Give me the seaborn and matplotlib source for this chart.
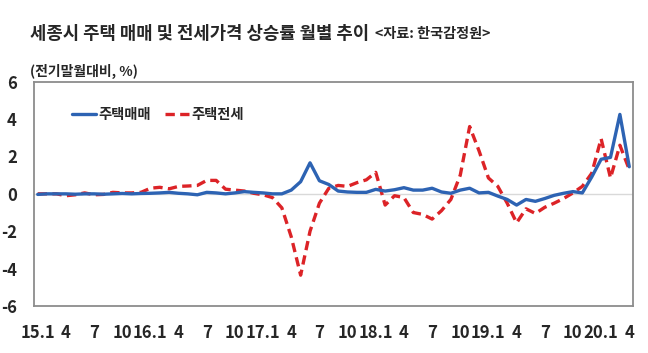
import matplotlib
matplotlib.use('Agg')
import matplotlib.pyplot as plt
import pandas as pd
import seaborn as sns

# month labels (15.1 ... 20.4), one tick every 3 months
tick_labels = ['15.1', '4', '7', '10', '16.1', '4', '7', '10', '17.1', '4', '7', '10',
               '18.1', '4', '7', '10', '19.1', '4', '7', '10', '20.1', '4']

# 주택매매 (sale price change, %)
sale = [-0.03, 0.0, 0.0, 0.0, -0.02, 0.0, 0.0, -0.02, 0.0, 0.02, 0.0, 0.02,
        0.03, 0.05, 0.08, 0.03, 0.0, -0.05, 0.08, 0.05, 0.0, 0.05, 0.12, 0.08,
        0.05, 0.0, 0.0, 0.2, 0.65, 1.66, 0.7, 0.5, 0.15, 0.1, 0.08, 0.08,
        0.24, 0.15, 0.22, 0.33, 0.2, 0.2, 0.3, 0.1, 0.03, 0.2, 0.3, 0.05,
        0.08, -0.12, -0.3, -0.6, -0.3, -0.4, -0.25, -0.08, 0.03, 0.12, 0.05, 0.9,
        1.85, 1.95, 4.25, 1.45]

# 주택전세 (jeonse price change, %)
jeonse = [0.0, 0.0, 0.0, -0.1, -0.05, 0.05, -0.05, -0.03, 0.08, 0.05, 0.05, 0.08,
          0.3, 0.35, 0.27, 0.4, 0.42, 0.45, 0.72, 0.72, 0.25, 0.2, 0.15, 0.03,
          -0.05, -0.2, -0.75, -2.3, -4.35, -2.0, -0.5, 0.3, 0.45, 0.4, 0.6, 0.75,
          1.15, -0.6, -0.1, -0.2, -1.0, -1.1, -1.35, -0.9, -0.3, 1.0, 3.6, 2.3,
          0.85, 0.4, -0.5, -1.55, -0.8, -1.05, -0.72, -0.5, -0.25, 0.05, 0.4, 1.1,
          2.95, 0.85, 2.6, 1.3]

df = pd.DataFrame({'month': range(len(sale)), 'sale': sale, 'jeonse': jeonse})

sns.set_style("white")
plt.rcParams['font.family'] = ['Noto Sans CJK KR', 'DejaVu Sans']

blue = '#2d63b3'
red = '#dc2327'

fig = plt.figure(figsize=(6.48, 3.53), dpi=100)
ax = fig.add_axes([0.0517, 0.1331, 0.9252, 0.6355])

ax.axhline(0, color='#d9d9d9', lw=1, zorder=1)
sns.lineplot(x='month', y='sale', data=df, ax=ax, color=blue, lw=2.4,
             label='주택매매', zorder=3)
sns.lineplot(x='month', y='jeonse', data=df, ax=ax, color=red, lw=2.4,
             linestyle=(0, (2.8, 1.6)), label='주택전세', zorder=2)

ax.set_xlim(-0.45, 63.4)
ax.set_ylim(-6, 6)
ax.set_yticks([-6, -4, -2, 0, 2, 4, 6])
ax.set_yticklabels(['-6', '-4', '-2', '0', '2', '4', '6'], fontsize=12, fontweight='bold')
ax.set_xticks(range(0, len(sale), 3))
ax.set_xticklabels(tick_labels, fontsize=12, fontweight='bold')
ax.tick_params(axis='x', length=0, pad=13)
ax.tick_params(axis='y', length=0, pad=12)
ax.set_xlabel('')
ax.set_ylabel('')
for s in ax.spines.values():
    s.set_color('#8c8c8c')
    s.set_linewidth(1.3)

ax.legend(loc='center left', bbox_to_anchor=(0.0525, 0.852), frameon=False,
          ncol=2, borderpad=0, handlelength=1.7, handletextpad=0.15,
          columnspacing=1.0, prop={'size': 10.3, 'weight': 'bold'})

# title, source and unit label
fig.text(0.046, 0.905, '세종시 주택 매매 및 전세가격 상승률 월별 추이', fontsize=12.8,
         fontweight='bold', va='center', ha='left')
fig.text(0.579, 0.905, '<자료: 한국감정원>', fontsize=10.2, fontweight='bold',
         va='center', ha='left')
fig.text(0.046, 0.797, '(전기말월대비, %)', fontsize=10, fontweight='bold',
         va='center', ha='left')

fig.savefig('out.png', dpi=100)
